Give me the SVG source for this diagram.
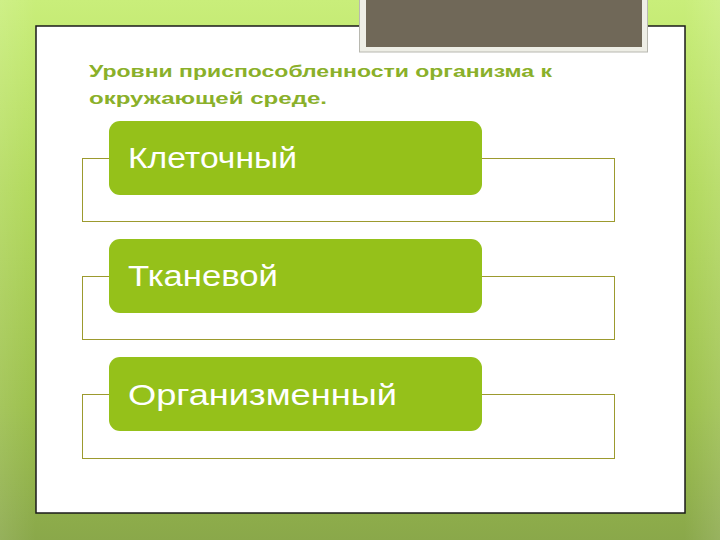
<svg xmlns="http://www.w3.org/2000/svg" width="720" height="540" viewBox="0 0 720 540">
<defs>
<linearGradient id="bg" x1="0" y1="0" x2="0" y2="1">
<stop offset="0" stop-color="#c9ee7a"/>
<stop offset="0.35" stop-color="#b2d95c"/>
<stop offset="0.75" stop-color="#9cc04c"/>
<stop offset="1" stop-color="#8aa84a"/>
</linearGradient>
<linearGradient id="stripes" x1="0" y1="0" x2="1" y2="0">
<stop offset="0" stop-color="#ffffff" stop-opacity="0.10"/>
<stop offset="0.05" stop-color="#ffffff" stop-opacity="0"/>
<stop offset="0.95" stop-color="#ffffff" stop-opacity="0"/>
<stop offset="1" stop-color="#ffffff" stop-opacity="0.12"/>
</linearGradient>
<style>
.frame{fill:none;stroke:#9c9a2e;stroke-width:1}
.box{fill:#95c11a}
.lbl{font-family:"Liberation Sans",Arial,sans-serif;font-size:30px;fill:#ffffff}
.title{font-family:"Liberation Sans",Arial,sans-serif;font-size:17px;font-weight:bold;fill:#8ab02a}
</style>
</defs>
<rect x="0" y="0" width="720" height="540" fill="url(#bg)"/>
<rect x="0" y="0" width="720" height="540" fill="url(#stripes)"/>
<rect x="36" y="26" width="649" height="487" fill="#ffffff" stroke="#1a1a1a" stroke-width="1.5"/>
<g id="photo">
<rect x="359.5" y="-2" width="288" height="54" fill="#eeeee6" stroke="#b8b8b0" stroke-width="1"/>
<rect x="366" y="0" width="276" height="47" fill="#706858"/>
</g>
<g id="title">
<text class="title" x="89" y="77" textLength="463" lengthAdjust="spacingAndGlyphs">Уровни приспособленности организма к</text>
<text class="title" x="89" y="104" textLength="238" lengthAdjust="spacingAndGlyphs">окружающей среде.</text>
</g>
<g id="connectors">
<rect class="frame" x="82.5" y="158.5" width="532" height="63"/>
<rect class="frame" x="82.5" y="276.5" width="532" height="63"/>
<rect class="frame" x="82.5" y="394.5" width="532" height="64"/>
</g>
<g id="node1">
<rect class="box" x="109" y="121" width="373" height="74" rx="11"/>
<text class="lbl" x="128" y="168" textLength="169" lengthAdjust="spacingAndGlyphs">Клеточный</text>
</g>
<g id="node2">
<rect class="box" x="109" y="239" width="373" height="74" rx="11"/>
<text class="lbl" x="128" y="286" textLength="150" lengthAdjust="spacingAndGlyphs">Тканевой</text>
</g>
<g id="node3">
<rect class="box" x="109" y="357" width="373" height="74" rx="11"/>
<text class="lbl" x="128" y="405" textLength="269" lengthAdjust="spacingAndGlyphs">Организменный</text>
</g>
</svg>
